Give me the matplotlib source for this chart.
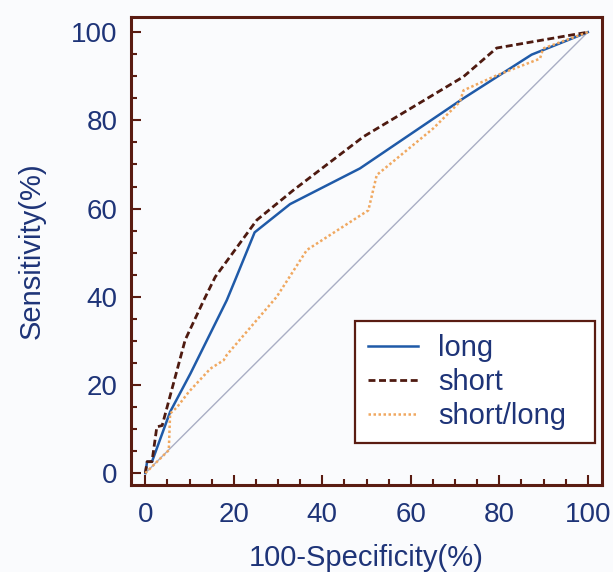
import matplotlib.pyplot as plt
from matplotlib.ticker import MultipleLocator

plt.rcParams['font.family'] = ['Liberation Sans', 'DejaVu Sans']

# ROC curves
long_x = [0, 0.4, 1.5, 5.6, 10.2, 18.4, 20.3, 24.7, 32.7, 48.5, 71.9, 87.3, 100]
long_y = [0, 2.6, 2.6, 13.9, 22.6, 39.2, 43.8, 54.6, 61.0, 69.1, 85.0, 94.9, 100]

short_x = [0, 0.4, 1.5, 2.6, 3.8, 9.0, 13.2, 15.8, 25.2, 33.5, 49.3, 71.9, 79.4, 100]
short_y = [0, 2.6, 2.6, 10.5, 10.8, 30.2, 39.2, 44.5, 57.4, 64.2, 76.3, 89.9, 96.4, 100]

sl_x = [0, 5.3, 5.6, 7.2, 9.8, 14.7, 17.7, 18.4, 29.7, 36.5, 50.4, 52.3, 65.1, 71.1,
        71.9, 79.4, 89.2, 89.9, 100]
sl_y = [0, 5.2, 13.5, 15.0, 18.4, 23.7, 25.6, 26.8, 40.0, 50.6, 59.6, 67.6, 78.2, 84.2,
        86.8, 90.2, 94.0, 96.3, 100]

ref_x = [0, 100]
ref_y = [0, 100]

text_color = '#1e3478'
frame_color = '#5a1c12'

fig = plt.figure(figsize=(6.13, 5.72), dpi=100)
fig.patch.set_facecolor('#fafbfd')
ax = fig.add_axes([0.214, 0.152, 0.768, 0.818])
ax.set_facecolor('#fafbfd')

ax.plot(ref_x, ref_y, color='#a9aec4', linewidth=1.0)
ax.plot(long_x, long_y, color='#1f5aa8', linewidth=1.8, label='long')
ax.plot(short_x, short_y, color='#4e1a10', linewidth=2.0, linestyle=(0, (2.5, 1.3)), label='short')
ax.plot(sl_x, sl_y, color='#f0a860', linewidth=1.8, linestyle=(0, (1, 1)), label='short/long')

ax.set_xlim(-3.2, 103.2)
ax.set_ylim(-2.7, 103.4)
ax.xaxis.set_major_locator(MultipleLocator(20))
ax.xaxis.set_minor_locator(MultipleLocator(5))
ax.yaxis.set_major_locator(MultipleLocator(20))
ax.yaxis.set_minor_locator(MultipleLocator(5))
ax.tick_params(which='both', direction='in', color=frame_color, width=1.5,
               labelsize=20, labelcolor=text_color)
ax.tick_params(axis='x', pad=12)
ax.tick_params(axis='y', pad=10)
ax.tick_params(which='major', length=7)
ax.tick_params(which='minor', length=4)
for s in ax.spines.values():
    s.set_color(frame_color)
    s.set_linewidth(2.2)

ax.set_xlabel('100-Specificity(%)', fontsize=21, color=text_color, labelpad=12)
ax.set_ylabel('Sensitivity(%)', fontsize=21, color=text_color, labelpad=18)

leg = ax.legend(loc='lower left', bbox_to_anchor=(0.476, 0.09, 0.509, 0.258),
                mode='expand', borderaxespad=0,
                fontsize=21, fancybox=False, framealpha=1, edgecolor=frame_color,
                handlelength=1.7, handletextpad=0.7, labelspacing=0.2, borderpad=0.45)
leg.get_frame().set_linewidth(1.6)
for t in leg.get_texts():
    t.set_color(text_color)

fig.savefig('out.png', dpi=100, facecolor=fig.get_facecolor())
